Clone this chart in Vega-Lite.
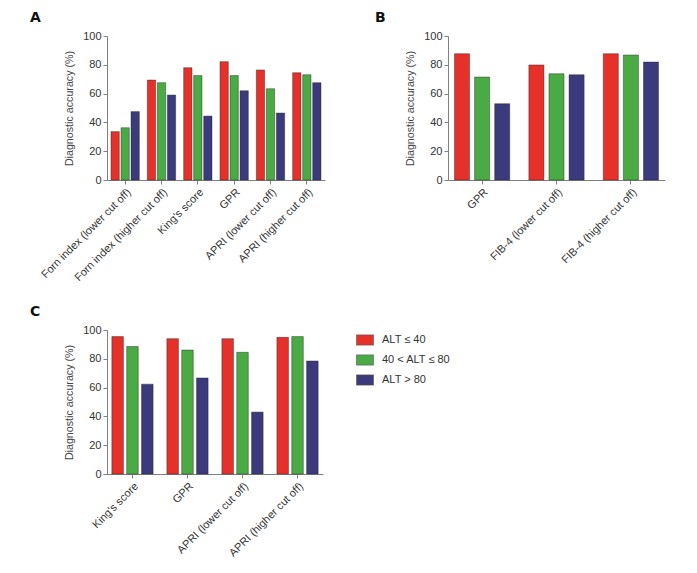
{
  "$schema": "https://vega.github.io/schema/vega-lite/v6.json",
  "padding": {"left": 30, "top": 11, "right": 5, "bottom": 5},
  "background": "white",
  "columns": 2,
  "bounds": "flush",
  "spacing": {"row": 150, "column": 123},
  "config": {
    "view": {"stroke": null},
    "font": "Liberation Sans",
    "axis": {
      "domainColor": "#808080",
      "tickColor": "#808080",
      "labelColor": "#333333",
      "titleColor": "#444444",
      "labelFont": "Liberation Sans",
      "titleFont": "Liberation Sans",
      "labelFontSize": 11,
      "titleFontSize": 10.7,
      "titleFontWeight": "normal",
      "grid": false,
      "tickSize": 4
    },
    "title": {"font": "DejaVu Sans", "fontSize": 14, "fontWeight": "bold", "color": "#111111", "anchor": "start", "frame": "group"}
  },
  "datasets": {
    "A": [
      {"method": "Forn index (lower cut off)", "group": "ALT ≤ 40", "accuracy": 33.6},
      {"method": "Forn index (lower cut off)", "group": "40 < ALT ≤ 80", "accuracy": 36.3},
      {"method": "Forn index (lower cut off)", "group": "ALT > 80", "accuracy": 47.5},
      {"method": "Forn index (higher cut off)", "group": "ALT ≤ 40", "accuracy": 69.4},
      {"method": "Forn index (higher cut off)", "group": "40 < ALT ≤ 80", "accuracy": 67.6},
      {"method": "Forn index (higher cut off)", "group": "ALT > 80", "accuracy": 59.0},
      {"method": "King's score", "group": "ALT ≤ 40", "accuracy": 78.0},
      {"method": "King's score", "group": "40 < ALT ≤ 80", "accuracy": 72.5},
      {"method": "King's score", "group": "ALT > 80", "accuracy": 44.4},
      {"method": "GPR", "group": "ALT ≤ 40", "accuracy": 82.2},
      {"method": "GPR", "group": "40 < ALT ≤ 80", "accuracy": 72.5},
      {"method": "GPR", "group": "ALT > 80", "accuracy": 62.0},
      {"method": "APRI (lower cut off)", "group": "ALT ≤ 40", "accuracy": 76.4},
      {"method": "APRI (lower cut off)", "group": "40 < ALT ≤ 80", "accuracy": 63.4},
      {"method": "APRI (lower cut off)", "group": "ALT > 80", "accuracy": 46.5},
      {"method": "APRI (higher cut off)", "group": "ALT ≤ 40", "accuracy": 74.5},
      {"method": "APRI (higher cut off)", "group": "40 < ALT ≤ 80", "accuracy": 73.1},
      {"method": "APRI (higher cut off)", "group": "ALT > 80", "accuracy": 67.6}
    ],
    "B": [
      {"method": "GPR", "group": "ALT ≤ 40", "accuracy": 87.7},
      {"method": "GPR", "group": "40 < ALT ≤ 80", "accuracy": 71.5},
      {"method": "GPR", "group": "ALT > 80", "accuracy": 53.0},
      {"method": "FIB-4 (lower cut off)", "group": "ALT ≤ 40", "accuracy": 79.9},
      {"method": "FIB-4 (lower cut off)", "group": "40 < ALT ≤ 80", "accuracy": 73.8},
      {"method": "FIB-4 (lower cut off)", "group": "ALT > 80", "accuracy": 73.1},
      {"method": "FIB-4 (higher cut off)", "group": "ALT ≤ 40", "accuracy": 87.7},
      {"method": "FIB-4 (higher cut off)", "group": "40 < ALT ≤ 80", "accuracy": 86.8},
      {"method": "FIB-4 (higher cut off)", "group": "ALT > 80", "accuracy": 81.9}
    ],
    "C": [
      {"method": "King's score", "group": "ALT ≤ 40", "accuracy": 95.4},
      {"method": "King's score", "group": "40 < ALT ≤ 80", "accuracy": 88.5},
      {"method": "King's score", "group": "ALT > 80", "accuracy": 62.4},
      {"method": "GPR", "group": "ALT ≤ 40", "accuracy": 94.0},
      {"method": "GPR", "group": "40 < ALT ≤ 80", "accuracy": 86.1},
      {"method": "GPR", "group": "ALT > 80", "accuracy": 66.7},
      {"method": "APRI (lower cut off)", "group": "ALT ≤ 40", "accuracy": 94.0},
      {"method": "APRI (lower cut off)", "group": "40 < ALT ≤ 80", "accuracy": 84.5},
      {"method": "APRI (lower cut off)", "group": "ALT > 80", "accuracy": 43.0},
      {"method": "APRI (higher cut off)", "group": "ALT ≤ 40", "accuracy": 94.9},
      {"method": "APRI (higher cut off)", "group": "40 < ALT ≤ 80", "accuracy": 95.4},
      {"method": "APRI (higher cut off)", "group": "ALT > 80", "accuracy": 78.5}
    ]
  },
  "resolve": {"legend": {"color": "independent"}, "scale": {"x": "independent", "xOffset": "independent"}},
  "concat": [
    {
      "title": {"text": "A", "dx": -77, "offset": 5},
      "width": 218,
      "height": 144,
      "data": {"name": "A"},
      "mark": {"type": "bar", "stroke": "#222222", "strokeWidth": 0.6, "strokeOpacity": 0.7},
      "encoding": {
        "x": {"field": "method", "type": "nominal", "sort": null, "title": null,
              "scale": {"paddingInner": 0.22, "paddingOuter": 0.11},
              "axis": {"labelAngle": -45, "labelPadding": 2}},
        "xOffset": {"field": "group", "type": "nominal", "sort": ["ALT ≤ 40", "40 < ALT ≤ 80", "ALT > 80"], "scale": {"paddingInner": 0.17, "paddingOuter": 0}},
        "y": {"field": "accuracy", "type": "quantitative", "title": "Diagnostic accuracy (%)",
              "scale": {"domain": [0, 100], "nice": false},
              "axis": {"values": [0, 20, 40, 60, 80, 100], "titlePadding": 8}},
        "color": {"field": "group", "type": "nominal", "legend": null,
                  "scale": {"domain": ["ALT ≤ 40", "40 < ALT ≤ 80", "ALT > 80"], "range": ["#e53129", "#4aab45", "#3b3a7c"]}}
      }
    },
    {
      "title": {"text": "B", "dx": -73, "offset": 5},
      "width": 217,
      "height": 144,
      "data": {"name": "B"},
      "mark": {"type": "bar", "stroke": "#222222", "strokeWidth": 0.6, "strokeOpacity": 0.7},
      "encoding": {
        "x": {"field": "method", "type": "nominal", "sort": null, "title": null,
              "scale": {"paddingInner": 0.257, "paddingOuter": 0.087},
              "axis": {"labelAngle": -45, "labelPadding": 2}},
        "xOffset": {"field": "group", "type": "nominal", "sort": ["ALT ≤ 40", "40 < ALT ≤ 80", "ALT > 80"], "scale": {"paddingInner": 0.25, "paddingOuter": 0}},
        "y": {"field": "accuracy", "type": "quantitative", "title": "Diagnostic accuracy (%)",
              "scale": {"domain": [0, 100], "nice": false},
              "axis": {"values": [0, 20, 40, 60, 80, 100], "titlePadding": 8}},
        "color": {"field": "group", "type": "nominal", "legend": null,
                  "scale": {"domain": ["ALT ≤ 40", "40 < ALT ≤ 80", "ALT > 80"], "range": ["#e53129", "#4aab45", "#3b3a7c"]}}
      }
    },
    {
      "title": {"text": "C", "dx": -77, "offset": 5},
      "width": 216,
      "height": 144,
      "data": {"name": "C"},
      "mark": {"type": "bar", "stroke": "#222222", "strokeWidth": 0.6, "strokeOpacity": 0.7},
      "encoding": {
        "x": {"field": "method", "type": "nominal", "sort": null, "title": null,
              "scale": {"paddingInner": 0.25, "paddingOuter": 0.088},
              "axis": {"labelAngle": -45, "labelPadding": 2}},
        "xOffset": {"field": "group", "type": "nominal", "sort": ["ALT ≤ 40", "40 < ALT ≤ 80", "ALT > 80"], "scale": {"paddingInner": 0.22, "paddingOuter": 0}},
        "y": {"field": "accuracy", "type": "quantitative", "title": "Diagnostic accuracy (%)",
              "scale": {"domain": [0, 100], "nice": false},
              "axis": {"values": [0, 20, 40, 60, 80, 100], "titlePadding": 8}},
        "color": {"field": "group", "type": "nominal",
                  "scale": {"domain": ["ALT ≤ 40", "40 < ALT ≤ 80", "ALT > 80"], "range": ["#e53129", "#4aab45", "#3b3a7c"]},
                  "legend": {"title": null, "orient": "none", "legendX": 249, "legendY": 1,
                             "symbolType": "M-1,-0.6H1V0.6H-1Z", "symbolSize": 289,
                             "symbolStrokeWidth": 0.6, "symbolStrokeColor": "#555555",
                             "labelFontSize": 11, "labelColor": "#333333", "labelFont": "Liberation Sans",
                             "labelOffset": 8, "rowPadding": 4}}
      }
    }
  ]
}
